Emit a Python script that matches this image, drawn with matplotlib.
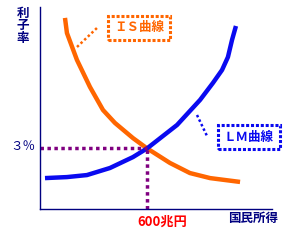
import numpy as np
import matplotlib
matplotlib.use('Agg')
import matplotlib.pyplot as plt

plt.rcParams['font.family'] = ['Noto Sans CJK JP', 'DejaVu Sans']

# IS curve (national income in 兆円, interest rate in %)
is_income = [140, 151, 207, 280, 353, 420, 521, 600, 728, 840, 953, 1121]
is_rate   = [9.46, 8.71, 7.38, 6.04, 4.90, 4.26, 3.51, 3.0, 2.28, 1.78, 1.53, 1.34]
# LM curve
lm_income = [28, 151, 263, 392, 521, 600, 768, 897, 969, 1020, 1053, 1076, 1098]
lm_rate   = [1.53, 1.58, 1.68, 2.03, 2.57, 3.0, 4.16, 5.40, 6.24, 6.88, 7.52, 8.37, 9.06]
eq_income = 600
eq_rate = 3

W, H = 303, 250
orange = '#FF6600'; blue = '#0A0AF0'; navy = '#000080'; purple = '#800080'

fig = plt.figure(figsize=(W/100, H/100), dpi=100)
ax = fig.add_axes([40/W, 1-209/H, 232/W, 202/H])
ax.set_xlim(0, 1300); ax.set_ylim(0, 10)
for s in ['top', 'right']:
    ax.spines[s].set_visible(False)
for s in ['left', 'bottom']:
    ax.spines[s].set_color(navy); ax.spines[s].set_linewidth(1.0)
ax.set_xticks([]); ax.set_yticks([])

ax.plot(is_income, is_rate, color=orange, lw=3.2, solid_capstyle='butt')
ax.plot(lm_income, lm_rate, color=blue, lw=3.2, solid_capstyle='butt')
ax.plot([0, eq_income], [eq_rate, eq_rate], color=purple, lw=2.5, ls=(0, (1, 1)))
ax.plot([eq_income, eq_income], [0, eq_rate], color=purple, lw=2.5, ls=(0, (1, 1)))

def fx(px): return px / W
def fy(py): return 1 - py / H

fig.text(fx(23), fy(26), '利\n子\n率', color=navy, fontsize=9, fontweight='bold',
         ha='center', va='center', linespacing=0.95)
fig.text(fx(23), fy(147), '３％', color=navy, fontsize=9, ha='center', va='center')
fig.text(fx(162), fy(222), '600兆円', color='red', fontsize=9.5, fontweight='bold',
         ha='center', va='center')
fig.text(fx(253), fy(218), '国民所得', color=navy, fontsize=9, fontweight='bold',
         ha='center', va='center')

fig.text(fx(139), fy(28), 'ＩＳ曲線', color=orange, fontsize=9, fontweight='bold',
         ha='center', va='center',
         bbox=dict(boxstyle='square,pad=0.45', fc='white', ec=orange, lw=2.2, ls=(0, (1, 0.6))))
fig.text(fx(249), fy(137), 'ＬＭ曲線', color=blue, fontsize=9, fontweight='bold',
         ha='center', va='center',
         bbox=dict(boxstyle='square,pad=0.45', fc='white', ec=blue, lw=2.2, ls=(0, (1, 0.6))))

fig.add_artist(plt.Line2D([fx(77), fx(98)], [fy(47), fy(27)], color=orange, lw=1.8, ls=(0, (1, 1))))
fig.add_artist(plt.Line2D([fx(197), fx(207)], [fy(115), fy(136)], color=blue, lw=1.8, ls=(0, (1, 1))))

fig.savefig('out.png', dpi=100)
